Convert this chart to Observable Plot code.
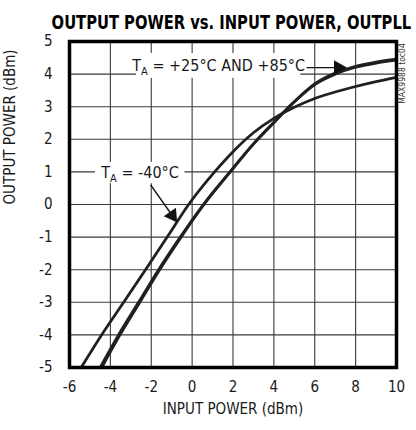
<!DOCTYPE html>
<html><head><meta charset="utf-8">
<script src="https://cdn.jsdelivr.net/npm/d3@7"></script>
<script src="https://cdn.jsdelivr.net/npm/@observablehq/plot@0.6"></script>
<style>
body{margin:0;background:#fff;}
svg{font-family:"Liberation Sans Narrow","DejaVu Sans Condensed","Arial Narrow",sans-serif;}
</style></head><body><div id="chart"></div>
<script>
const title = "OUTPUT POWER vs. INPUT POWER, OUTPLL";
const xLabel = "INPUT POWER (dBm)";
const yLabel = "OUTPUT POWER (dBm)";
const note = "MAX9988 toc04";
const xTicks = [-6,-4,-2,0,2,4,6,8,10];
const yTicks = [-5,-4,-3,-2,-1,0,1,2,3,4,5];

const inM40  = [-5.43,-4.43,-3.35,-2.28,-1.22,-0.17,1.1,2.0,3.0,4.0,5.0,6.0,7.0,8.0,9.0,10.0];
const outM40 = [-5,-4,-3,-2,-1,0,1,1.62,2.2,2.64,2.98,3.25,3.45,3.62,3.77,3.9];
const in25   = [-4.5,-3.6,-2.62,-1.64,-0.58,0.55,1.85,3.0,4.0,5.0,6.0,7.0,8.0,9.0,10.0];
const out25  = [-5,-4,-3,-2,-1,0,1,1.86,2.52,3.15,3.68,4.0,4.21,4.34,4.43];
const in85   = [-4.42,-3.53,-2.56,-1.59,-0.54,0.58,1.87,3.0,4.0,5.0,6.0,7.0,8.0,9.0,10.0];
const out85  = [-5,-4,-3,-2,-1,0,1,1.85,2.51,3.15,3.7,4.03,4.24,4.37,4.46];

const series = [
  {name:"-40C", xs:inM40, ys:outM40},
  {name:"+25C", xs:in25, ys:out25},
  {name:"+85C", xs:in85, ys:out85}
];
const lineData = series.flatMap(s => s.xs.map((x,i)=>({series:s.name, x, y:s.ys[i]})));

const labels = [
  {text:"T|A| = +25°C AND +85°C", x:1.3, y:4.24},
  {text:"T|A| = -40°C", x:-2.55, y:0.97}
];
const boxes = [
  {x1:-2.72, x2:5.32, y1:3.87, y2:4.63},
  {x1:-4.73, x2:-0.35, y1:0.64, y2:1.29}
];
const arrowLines = [
  {x1:5.6, y1:4.2, x2:7.45, y2:4.2},
  {x1:-2.03, y1:0.6, x2:-0.8, y2:-0.49}
];
const heads = [
  {x:7.15, y:4.2, rot:90},
  {x:-0.97, y:-0.34, rot:145}
];

const plot = Plot.plot({
  width:416, height:430,
  marginTop:41, marginLeft:69, marginRight:20, marginBottom:63,
  style:{background:"#fff", color:"#1a1a1a", fontSize:"15px"},
  x:{domain:[-6,10], ticks:xTicks, tickSize:0, tickPadding:14, tickFormat:d=>String(d), label:null},
  y:{domain:[-5,5], ticks:yTicks, tickSize:0, tickPadding:17, tickFormat:d=>String(d), label:null},
  marks:[
    Plot.gridX(xTicks, {stroke:"#3a3a3a", strokeOpacity:1, strokeWidth:1.1}),
    Plot.gridY(yTicks, {stroke:"#3a3a3a", strokeOpacity:1, strokeWidth:1.1}),
    Plot.rect(boxes, {x1:"x1", x2:"x2", y1:"y1", y2:"y2", fill:"white"}),
    Plot.line(lineData, {x:"x", y:"y", z:"series", stroke:"#231f20", strokeWidth:2.8, curve:"monotone-x"}),
    Plot.link(arrowLines, {x1:"x1", y1:"y1", x2:"x2", y2:"y2", stroke:"#111", strokeWidth:1.4}),
    Plot.dot(heads, {x:"x", y:"y", rotate:"rot", symbol:"triangle", r:5.5, fill:"#111", stroke:"none"}),
    Plot.text(labels, {x:"x", y:"y", text:"text", fontSize:16, fill:"#1a1a1a", className:"sub-label"}),
    Plot.frame({stroke:"#000", strokeWidth:3.5}),
    Plot.text([title], {frameAnchor:"top", dx:-1, dy:-27, fontSize:20, fontWeight:"bold", fill:"#000", className:"ttl"}),
    Plot.text([xLabel], {frameAnchor:"bottom", dy:46, fontSize:15, fill:"#1a1a1a"}),
    Plot.text([yLabel], {frameAnchor:"left", dx:-59, rotate:-90, fontSize:15, fill:"#1a1a1a"}),
    Plot.text([note], {frameAnchor:"top-right", textAnchor:"middle", lineAnchor:"middle", dx:6, dy:32, rotate:-90, fontSize:8.5, fill:"#333"})
  ]
});
document.getElementById("chart").appendChild(plot);

// subscripts
d3.select(plot).selectAll(".sub-label text").each(function(){
  const t = d3.select(this);
  const parts = t.text().split("|");
  t.text("");
  t.append("tspan").text(parts[0]);
  t.append("tspan").attr("font-size","11").attr("dy","4").text(parts[1]);
  t.append("tspan").attr("dy","-4").text(parts[2]);
});
// condense title horizontally to the reference width, centred on x = 231.5
d3.select(plot).selectAll(".ttl text").style("font-weight","900").each(function(){
  const svgRect = plot.getBoundingClientRect();
  const r = this.getBoundingClientRect();
  const cx = r.x - svgRect.x + r.width/2;
  const s = 360 / r.width;
  const target = 231.5;
  const g = document.createElementNS("http://www.w3.org/2000/svg","g");
  this.parentNode.insertBefore(g, this);
  g.appendChild(this);
  g.setAttribute("transform", `translate(${target},0) scale(${s},1) translate(${-cx},0)`);
});
</script></body></html>
